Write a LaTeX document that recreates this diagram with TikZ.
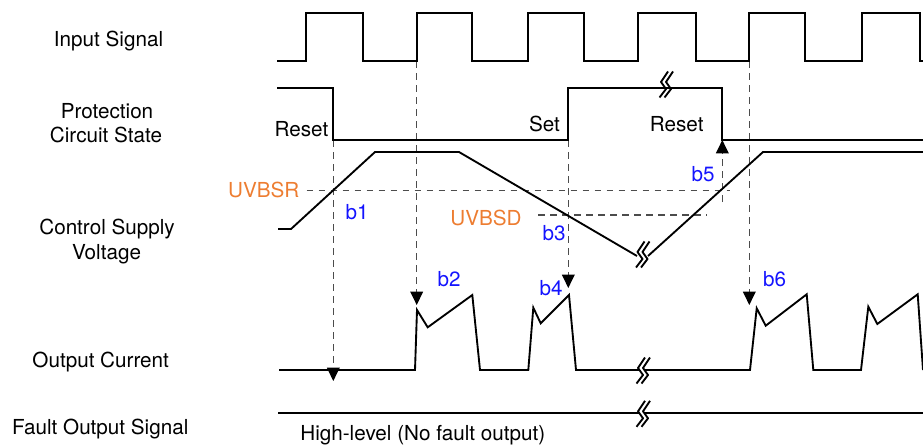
\documentclass[tikz,border=0pt]{standalone}
\usepackage{fontspec}
\setmainfont{TeX Gyre Heros}
\usetikzlibrary{arrows.meta}
\definecolor{uvorange}{RGB}{237,125,49}
\definecolor{bblue}{RGB}{20,20,255}
\tikzset{
  sig/.style={line width=1.4pt},
  guide/.style={draw=black!70, line width=1pt, dash pattern=on 5pt off 4pt},
  tip/.style={-{Triangle[width=9.5pt,length=10pt,color=black]}},
  lbl/.style={font=\fontsize{15.5}{18}\selectfont, inner sep=0pt, anchor=base},
  bnote/.style={lbl, text=bblue},
  vnote/.style={lbl, text=uvorange},
  brk/.pic={
    \fill[white] (-3.6,-2) rectangle (1.4,2);
    \foreach \dx in {-2.5,2.5}
      \draw[line width=1.4pt, line join=round, shift={(\dx,0)}] (4.5,-12.5) -- (-2.5,-2) -- (2.5,5) -- (-4,13.5);
  }
}

\begin{document}
\begin{tikzpicture}[x=0.75pt, y=-0.75pt]
        \useasboundingbox (0,0) rectangle (923,447);
        % row labels
        \node[lbl] (inlbl) at (108.5,46) {Input Signal};
        \node[lbl] (protlbl) at (107,118.3) {Protection};
        \node[lbl] (protlblb) at (106,142.3) {Circuit State};
        \node[lbl] (vcclbl) at (107,234.3) {Control Supply};
        \node[lbl] (vcclblb) at (106.5,259) {Voltage};
        \node[lbl] (outlbl) at (100.7,367.7) {Output Current};
        \node[lbl] (faultlbl) at (100.3,434.3) {Fault Output Signal};
        % guide lines
        \coordinate (s1) at (333.3,140);  \coordinate (t1) at (333.3,381);
        \coordinate (s2) at (416.7,61);   \coordinate (t2) at (416.7,305);
        \coordinate (s3) at (568.3,140);  \coordinate (t3) at (568.3,288);
        \coordinate (s5) at (722.3,202);  \coordinate (t5) at (722.3,140);
        \coordinate (s6) at (749.3,61);   \coordinate (t6) at (749.3,305);
        \draw[guide] (306.7,190.7) -- (730,190.7);
        \draw[guide] (538,215) -- (706.7,215);
        \draw[guide,tip] (s1) -- (t1);
        \draw[guide,tip] (s2) -- (t2);
        \draw[guide,tip] (s3) -- (t3);
        \draw[guide,tip] (s5) -- (t5);
        \draw[guide,tip] (s6) -- (t6);
        % input signal
        \draw[sig] (277,61) \foreach \r/\f in {305.7/362.7, 416.7/471.7, 527.7/584.3, 638/695.7, 749.3/805, 862.3/920}
          { -- (\r,61) -- (\r,13) -- (\f,13) -- (\f,61) } -- (923,61);
        % protection circuit state
        \draw[sig] (277,88) -- (333.3,88) -- (333.3,140) -- (568.3,140) -- (568.3,88) -- (722.3,88) -- (722.3,140) -- (923,140);
        \pic at (666,84) {brk};
        \node[lbl, anchor=base east] (rst1) at (328.5,136.7) {Reset};
        \node[lbl] (set) at (544.5,131) {Set};
        \node[lbl] (rst2) at (676.7,131) {Reset};
        % control supply voltage
        \draw[sig] (278,229) -- (291,229) -- (375,152) -- (459,152) -- (637,256);
        \draw[sig] (648,256) -- (763,152) -- (923,152);
        \pic at (642.5,254) {brk};
        \node[vnote] (uvbsr) at (263.8,197.3) {UVBSR};
        \node[vnote] (uvbsd) at (486,225.7) {UVBSD};
        % output current
        \draw[sig] (279,370) -- (415,370) -- (417,310) -- (427.7,327.3) -- (472.3,295) -- (480,370)
          -- (528.3,370) -- (533.3,307.7) -- (540.7,323.3) -- (569,295) -- (576,370)
          -- (750,370) -- (756.7,308.3) -- (765.7,325.7) -- (806.7,294.3) -- (813.3,370)
          -- (861,370) -- (868.3,306.7) -- (877.3,324) -- (917.7,294.3) -- (923,370);
        \pic at (643,370) {brk};
        % fault output signal
        \draw[sig] (278,413.3) -- (923,413.3);
        \pic at (643,413.3) {brk};
        \node[lbl] (hilvl) at (422.8,440) {High-level (No fault output)};
        % event marks
        \node[bnote] (b1) at (357,219) {b1};
        \node[bnote] (b2) at (449,286.7) {b2};
        \node[bnote] (b3) at (554,240.7) {b3};
        \node[bnote] (b4) at (551,295) {b4};
        \node[bnote] (b5) at (703,181.7) {b5};
        \node[bnote] (b6) at (774.5,286.7) {b6};
\end{tikzpicture}
\end{document}
